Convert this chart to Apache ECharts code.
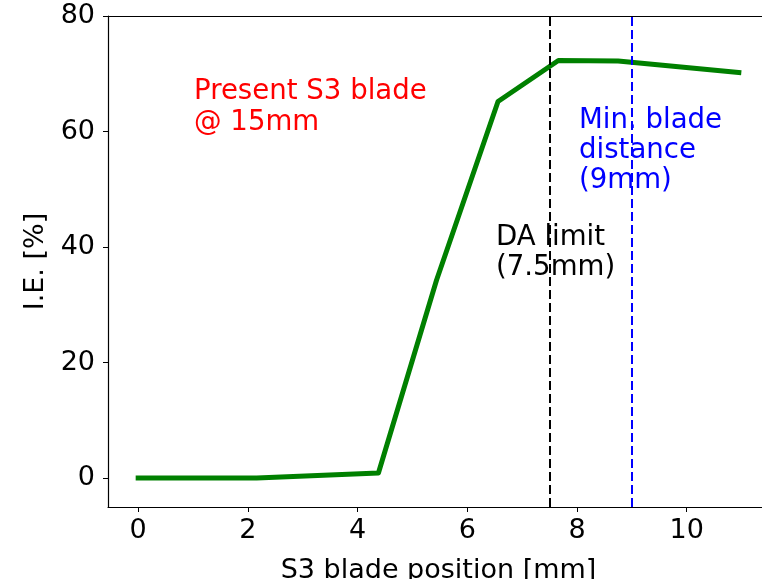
<!DOCTYPE html>
<html>
<head>
<meta charset="utf-8">
<title>I.E. vs S3 blade position</title>
<script src="https://cdn.jsdelivr.net/npm/echarts@6/dist/echarts.min.js"></script>
<style>
    html, body { margin: 0; padding: 0; background: #ffffff; }
    #chart { width: 762px; height: 579px; }
</style>
</head>
<body>
<div id="chart"></div>
<script>
// 数据
const bladePos = [0, 2.16, 4.38, 5.44, 6.56, 7.66, 8.75, 10.95];
const ieValues = [0, 0, 0.9, 34.3, 65.2, 72.3, 72.2, 70.2];
const xTicks = [0, 2, 4, 6, 8, 10];
const yTicks = [0, 20, 40, 60, 80];
const daLimit = 7.5;
const minBladeDist = 9;

document.addEventListener('DOMContentLoaded', function() {
    const font = 'DejaVu Sans';
    const chart = echarts.init(document.getElementById('chart'));

    const lineData = bladePos.map((x, i) => [x, ieValues[i]]);

    const option = {
        backgroundColor: '#ffffff',
        animation: false,
        textStyle: { fontFamily: font },
        grid: {
            left: 108,
            top: 16,
            width: 661,
            height: 491,
            containLabel: false,
            outerBoundsMode: 'none'
        },
        xAxis: [
            {
                type: 'value',
                min: -0.55,
                max: 11.5,
                name: 'S3 blade position [mm]',
                nameLocation: 'middle',
                nameGap: 50,
                nameTextStyle: { fontFamily: font, fontSize: 27, color: '#000' },
                splitLine: { show: false },
                axisLine: { onZero: false, lineStyle: { color: '#000', width: 1.2 } },
                axisTick: { show: true, length: 5, customValues: xTicks, lineStyle: { color: '#000' } },
                axisLabel: { customValues: xTicks, margin: 10, fontFamily: font, fontSize: 27, color: '#000' }
            },
            {
                // 上边框
                type: 'value',
                position: 'top',
                min: -0.55,
                max: 11.5,
                splitLine: { show: false },
                axisLine: { show: true, onZero: false, lineStyle: { color: '#000', width: 1.2 } },
                axisTick: { show: false },
                axisLabel: { show: false }
            }
        ],
        yAxis: [
            {
                type: 'value',
                min: -5,
                max: 80,
                name: 'I.E. [%]',
                nameLocation: 'middle',
                nameGap: 57,
                nameTextStyle: { fontFamily: font, fontSize: 27, color: '#000' },
                splitLine: { show: false },
                axisLine: { show: true, onZero: false, lineStyle: { color: '#000', width: 1.2 } },
                axisTick: { show: true, length: 5, customValues: yTicks, lineStyle: { color: '#000' } },
                axisLabel: { customValues: yTicks, margin: 13, fontFamily: font, fontSize: 27, color: '#000' }
            }
        ],
        series: [
            {
                name: 'I.E.',
                type: 'line',
                data: lineData,
                showSymbol: false,
                symbol: 'none',
                lineStyle: { color: '#008000', width: 5, cap: 'square', join: 'round' },
                markLine: {
                    silent: true,
                    symbol: ['none', 'none'],
                    label: { show: false },
                    data: [
                        { xAxis: daLimit, lineStyle: { color: '#000000', type: [9, 4], width: 2 } },
                        { xAxis: minBladeDist, lineStyle: { color: '#0000ff', type: [9, 4], width: 2 } }
                    ]
                }
            }
        ],
        // 注释文字
        graphic: [
            {
                type: 'text',
                left: 194,
                top: 76,
                style: { text: 'Present S3 blade\n@ 15mm', fill: '#ff0000', font: '27.6px "DejaVu Sans"', lineHeight: 31 }
            },
            {
                type: 'text',
                left: 579,
                top: 106,
                style: { text: 'Min. blade\ndistance\n(9mm)', fill: '#0000ff', font: '27.6px "DejaVu Sans"', lineHeight: 30 }
            },
            {
                type: 'text',
                left: 496,
                top: 223,
                style: { text: 'DA limit\n(7.5mm)', fill: '#000000', font: '27.6px "DejaVu Sans"', lineHeight: 30 }
            }
        ]
    };
    chart.setOption(option);
});
</script>
</body>
</html>
